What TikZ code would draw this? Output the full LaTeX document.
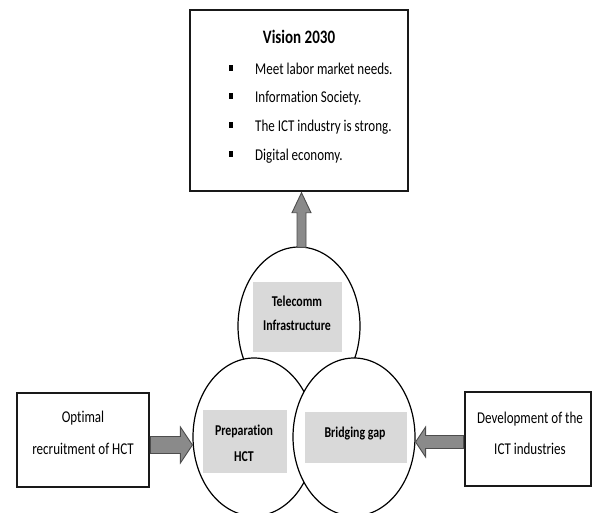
\documentclass[tikz,border=0pt]{standalone}
\usepackage{fontspec}
\setmainfont{Carlito}[FakeStretch=0.79, RawFeature={-liga;-clig;-calt}]
\usetikzlibrary{shapes.geometric,calc}
\definecolor{boxgray}{HTML}{D9D9D9}
\definecolor{arrowfill}{HTML}{8A8A8A}
\definecolor{arrowedge}{HTML}{4D4D4D}
\tikzset{
  frame/.style={draw=black!90, line width=1.4pt, fill=white, inner sep=0pt},
  ring/.style={ellipse, draw=black, line width=1.2pt, fill=white,
    minimum width=122pt, minimum height=158pt, inner sep=0pt},
  tag/.style={fill=boxgray, inner sep=0pt},
  txt/.style={inner sep=0pt, anchor=base, font=\fontsize{16.5}{19}\selectfont},
  listtxt/.style={txt, anchor=base west},
  ringtxt/.style={inner sep=0pt, anchor=base, font=\fontsize{15}{17}\selectfont\bfseries},
  titletxt/.style={inner sep=0pt, anchor=base, font=\fontsize{19}{21}\selectfont\bfseries},
  blockarrow/.style={draw=arrowedge, fill=arrowfill, line width=0.9pt, line join=miter},
  bulletmark/.style={fill=black, inner sep=0pt, minimum width=4pt, minimum height=6pt}
}
\begin{document}
\begin{tikzpicture}[x=1pt,y=-1pt]
\useasboundingbox (0,0) rectangle (594,512);
\clip (0,0) rectangle (594,512);

% goal box
\node[frame, minimum width=218pt, minimum height=181pt] (vision) at (299,100.5) {};
\node[titletxt] (title) at (299,43) {Vision 2030};
\foreach \y/\t [count=\i] in {74/Meet labor market needs.,
                              102/Information Society.,
                              131/The ICT industry is strong.,
                              160/Digital economy.}{
  \node[bulletmark] (b\i) at (231,\y-6) {};
  \node[listtxt] (l\i) at (255,\y) {\t};
}

% side boxes
\node[frame, minimum width=132pt, minimum height=94pt] (optimal) at (83,440) {};
\node[txt] (o1) at (83,422) {Optimal};
\node[txt] (o2) at (83,454) {recruitment of HCT};

\node[frame, minimum width=126pt, minimum height=94pt] (devel) at (528,439) {};
\node[txt] (d1) at (530,423) {Development of the};
\node[txt] (d2) at (530,454) {ICT industries};

% three overlapping rings
\node[ring] (tele) at (299,326) {};
\node[ring] (prep) at (254,437) {};
\node[ring] (bridge) at (354,437) {};

\node[tag, minimum width=89pt, minimum height=70pt] (teletag) at (297.5,317) {};
\node[ringtxt] (t1) at (297,306) {Telecomm};
\node[ringtxt] (t2) at (297,330) {Infrastructure};

\node[tag, minimum width=84pt, minimum height=63pt] (preptag) at (245,441.5) {};
\node[ringtxt] (p1) at (244,435) {Preparation};
\node[ringtxt] (p2) at (244,461) {HCT};

\node[tag, minimum width=102pt, minimum height=51pt] (bridgetag) at (356,437.5) {};
\node[ringtxt] (g1) at (355,437) {Bridging gap};

% block arrows
\coordinate (ub) at ($(tele.north)+(2.5,1)$);
\coordinate (ut) at ($(ub |- vision.south)+(0,1)$);
\draw[blockarrow] ($(ub)+(-4.5,0)$) -- ($(ut)+(-4.5,20)$) -- ($(ut)+(-9.5,20)$)
  -- (ut) -- ($(ut)+(9.5,20)$) -- ($(ut)+(4.5,20)$) -- ($(ub)+(4.5,0)$) -- cycle;

\coordinate (ls) at ($(optimal.east)+(0.7,5)$);
\coordinate (lt) at (ls -| prep.west);
\draw[blockarrow] ($(ls)+(0,-8.5)$) -- ($(lt)+(-12,-8.5)$) -- ($(lt)+(-12,-18)$)
  -- (lt) -- ($(lt)+(-12,18)$) -- ($(lt)+(-12,8.5)$) -- ($(ls)+(0,8.5)$) -- cycle;

\coordinate (rs) at ($(devel.west)+(-0.7,3)$);
\coordinate (rt) at (rs -| bridge.east);
\draw[blockarrow] ($(rs)+(0,-6.5)$) -- ($(rt)+(10,-6.5)$) -- ($(rt)+(10,-15)$)
  -- (rt) -- ($(rt)+(10,15)$) -- ($(rt)+(10,6.5)$) -- ($(rs)+(0,6.5)$) -- cycle;
\end{tikzpicture}
\end{document}
